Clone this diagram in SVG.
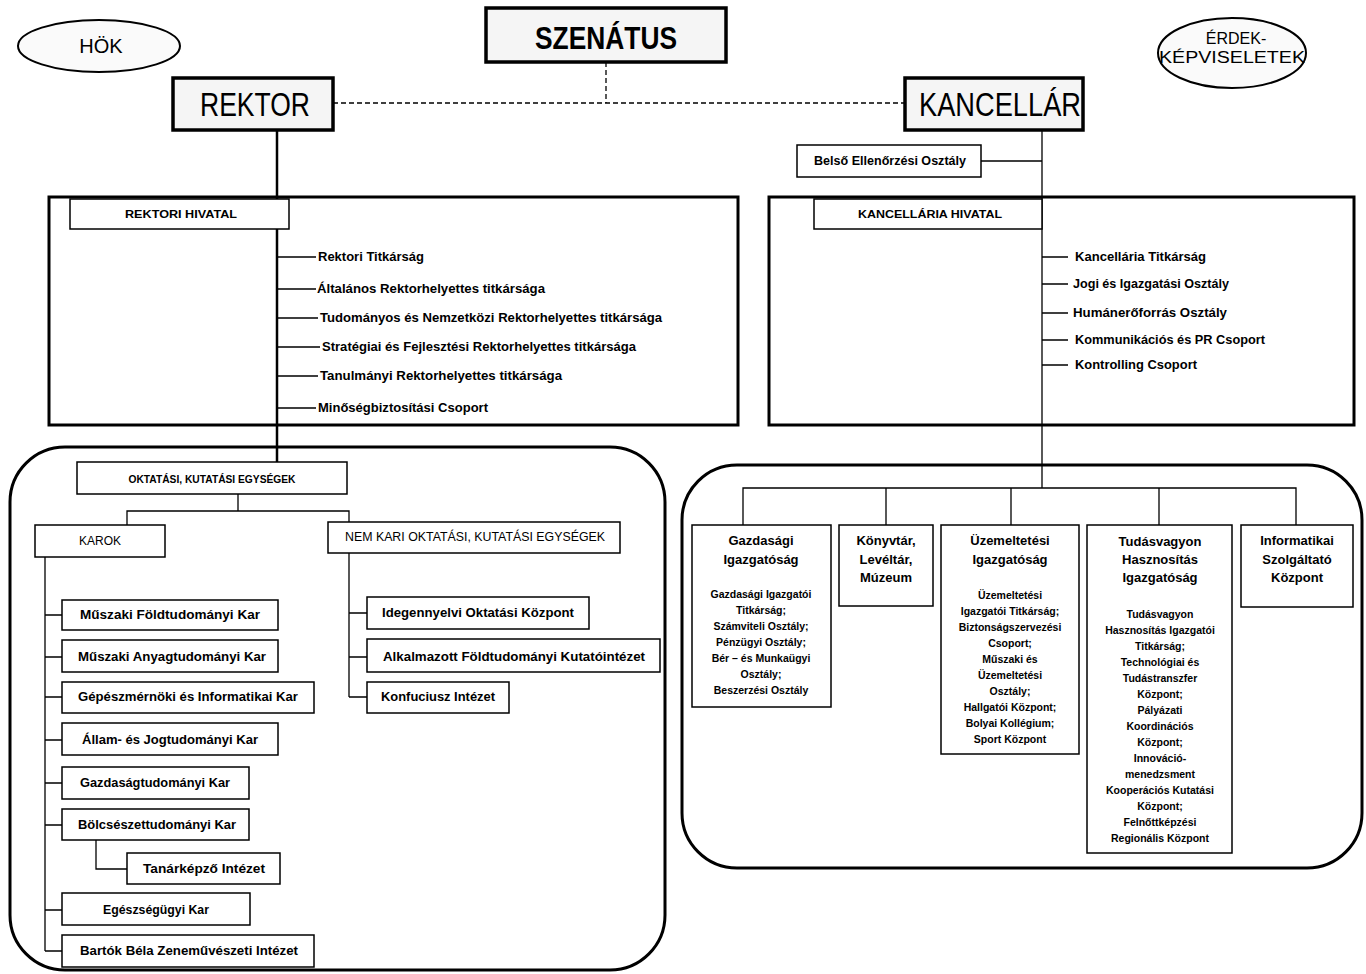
<svg xmlns="http://www.w3.org/2000/svg" width="1366" height="974" viewBox="0 0 1366 974">
<style>
.bg{fill:#fff}
.box{fill:#fff;stroke:#000;stroke-width:1.5}
.thick{fill:#f5f5f5;stroke:#000;stroke-width:3.5}
.frame{fill:none;stroke:#000;stroke-width:3}
.ell{fill:#fafafa;stroke:#000;stroke-width:2}
.ln{stroke:#000;stroke-width:1.3;fill:none}
.main{stroke:#000;stroke-width:2.5;fill:none}
.dash{stroke:#000;stroke-width:1.3;fill:none;stroke-dasharray:5 3}
.t{font-family:"Liberation Sans",Arial,sans-serif;font-weight:bold;font-size:12px;fill:#000}
.s{font-family:"Liberation Sans",Arial,sans-serif;font-weight:bold;font-size:10.5px;fill:#000;text-anchor:middle}
.h{font-family:"Liberation Sans",Arial,sans-serif;font-weight:bold;font-size:13px;fill:#000;text-anchor:middle}
.n{font-family:"Liberation Sans",Arial,sans-serif;font-size:12px;fill:#000;text-anchor:middle}
.big{font-family:"Liberation Sans",Arial,sans-serif;font-size:34px;fill:#000;text-anchor:middle}
.c{text-anchor:middle}
</style>
<rect class="bg" x="0" y="0" width="1366" height="974"/>

<!-- frames -->
<g id="frames">
<rect class="frame" x="49" y="197" width="689" height="228"/>
<rect class="frame" x="769" y="197" width="585" height="228"/>
<rect class="frame" x="10" y="447" width="655" height="523" rx="55" ry="55"/>
<rect class="frame" x="682" y="465" width="680" height="403" rx="55" ry="55"/>
</g>

<!-- connectors -->
<g id="connectors">
<path class="dash" d="M333 103 H905 M606 62 V103"/>
<path class="main" d="M277 130 V462"/>
<path class="ln" d="M1042 130 V488 M981 161 H1042"/>
<path class="ln" d="M277 257 H316 M277 289 H316 M277 318 H318 M277 347 H320 M277 376 H318 M277 408 H316"/>
<path class="ln" d="M1042 257 H1068 M1042 284 H1068 M1042 313 H1068 M1042 340 H1068 M1042 365 H1068"/>
<path class="ln" d="M238 494 V511 M127 525 V511 H349 V522"/>
<path class="ln" d="M45 557 V951 M45 615 H62 M45 657 H62 M45 697 H62 M45 740 H62 M45 783 H62 M45 825 H62 M45 910 H62 M45 951 H62"/>
<path class="ln" d="M96 840 V869 H127"/>
<path class="ln" d="M349 553 V697 M349 613 H367 M349 657 H367 M349 697 H367"/>
<path class="ln" d="M743 525 V488 H1296 V525 M886 488 V525 M1011 488 V525 M1159 488 V525"/>
</g>

<g id="hok">
<ellipse class="ell" cx="99" cy="46" rx="81" ry="26"/>
<text class="n" x="101" y="53" style="font-size:20px">HÖK</text>
</g>
<g id="erdek">
<ellipse class="ell" cx="1232" cy="53" rx="74" ry="35"/>
<text class="n" x="1236" y="44" style="font-size:16px">ÉRDEK-</text>
<text class="n" x="1232" y="63" style="font-size:16px" textLength="146" lengthAdjust="spacingAndGlyphs">KÉPVISELETEK</text>
</g>
<g id="szenatus">
<rect class="thick" x="486" y="8" width="240" height="54"/>
<text class="big" x="606" y="49" style="font-weight:bold;font-size:32px" textLength="142" lengthAdjust="spacingAndGlyphs">SZENÁTUS</text>
</g>
<g id="rektor">
<rect class="thick" x="173" y="78" width="160" height="52"/>
<text class="big" x="255" y="116" textLength="110" lengthAdjust="spacingAndGlyphs">REKTOR</text>
</g>
<g id="kancellar">
<rect class="thick" x="905" y="78" width="178" height="52"/>
<text class="big" x="1000" y="116" textLength="162" lengthAdjust="spacingAndGlyphs">KANCELLÁR</text>
</g>
<g id="belso">
<rect class="box" x="797" y="145" width="184" height="32"/>
<text class="t c" x="890" y="165" textLength="152" lengthAdjust="spacingAndGlyphs">Belső Ellenőrzési Osztály</text>
</g>

<g id="rektori-hivatal">
<rect class="box" x="70" y="199" width="219" height="30"/>
<text class="t c" x="181" y="218" style="font-size:11px" textLength="112" lengthAdjust="spacingAndGlyphs">REKTORI HIVATAL</text>
<text class="t" x="318" y="261" textLength="106" lengthAdjust="spacingAndGlyphs">Rektori Titkárság</text>
<text class="t" x="317" y="293" textLength="228" lengthAdjust="spacingAndGlyphs">Általános Rektorhelyettes titkársága</text>
<text class="t" x="320" y="322" textLength="342" lengthAdjust="spacingAndGlyphs">Tudományos és Nemzetközi Rektorhelyettes titkársága</text>
<text class="t" x="322" y="351" textLength="314" lengthAdjust="spacingAndGlyphs">Stratégiai és Fejlesztési Rektorhelyettes titkársága</text>
<text class="t" x="320" y="380" textLength="242" lengthAdjust="spacingAndGlyphs">Tanulmányi Rektorhelyettes titkársága</text>
<text class="t" x="318" y="412" textLength="170" lengthAdjust="spacingAndGlyphs">Minőségbiztosítási Csoport</text>
</g>

<g id="kancellaria-hivatal">
<rect class="box" x="814" y="199" width="228" height="30"/>
<text class="t c" x="930" y="218" style="font-size:11px" textLength="144" lengthAdjust="spacingAndGlyphs">KANCELLÁRIA HIVATAL</text>
<text class="t" x="1075" y="261" textLength="131" lengthAdjust="spacingAndGlyphs">Kancellária Titkárság</text>
<text class="t" x="1073" y="288" textLength="156" lengthAdjust="spacingAndGlyphs">Jogi és Igazgatási Osztály</text>
<text class="t" x="1073" y="317" textLength="154" lengthAdjust="spacingAndGlyphs">Humánerőforrás Osztály</text>
<text class="t" x="1075" y="344" textLength="190" lengthAdjust="spacingAndGlyphs">Kommunikációs és PR Csoport</text>
<text class="t" x="1075" y="369" textLength="122" lengthAdjust="spacingAndGlyphs">Kontrolling Csoport</text>
</g>

<g id="oktatasi">
<rect class="box" x="77" y="462" width="270" height="32"/>
<text class="t c" x="212" y="483" style="font-size:10px" textLength="167" lengthAdjust="spacingAndGlyphs">OKTATÁSI, KUTATÁSI EGYSÉGEK</text>
</g>
<g id="karok">
<rect class="box" x="35" y="525" width="130" height="32"/>
<text class="n" x="100" y="545">KAROK</text>
</g>
<g id="nemkari">
<rect class="box" x="328" y="522" width="292" height="31"/>
<text class="n" x="475" y="541" textLength="260" lengthAdjust="spacingAndGlyphs">NEM KARI OKTATÁSI, KUTATÁSI EGYSÉGEK</text>
</g>

<g id="k1"><rect class="box" x="62" y="600" width="216" height="30"/><text class="t c" x="170" y="619" textLength="180" lengthAdjust="spacingAndGlyphs">Műszaki Földtudományi Kar</text></g>
<g id="k2"><rect class="box" x="62" y="640" width="216" height="32"/><text class="t c" x="172" y="661" textLength="188" lengthAdjust="spacingAndGlyphs">Műszaki Anyagtudományi Kar</text></g>
<g id="k3"><rect class="box" x="62" y="682" width="252" height="31"/><text class="t c" x="188" y="701" textLength="220" lengthAdjust="spacingAndGlyphs">Gépészmérnöki és Informatikai Kar</text></g>
<g id="k4"><rect class="box" x="62" y="723" width="216" height="32"/><text class="t c" x="170" y="744" textLength="176" lengthAdjust="spacingAndGlyphs">Állam- és Jogtudományi Kar</text></g>
<g id="k5"><rect class="box" x="62" y="767" width="187" height="32"/><text class="t c" x="155" y="787" textLength="150" lengthAdjust="spacingAndGlyphs">Gazdaságtudományi Kar</text></g>
<g id="k6"><rect class="box" x="62" y="809" width="187" height="31"/><text class="t c" x="157" y="829" textLength="158" lengthAdjust="spacingAndGlyphs">Bölcsészettudományi Kar</text></g>
<g id="k7"><rect class="box" x="127" y="853" width="153" height="31"/><text class="t c" x="204" y="873" textLength="122" lengthAdjust="spacingAndGlyphs">Tanárképző Intézet</text></g>
<g id="k8"><rect class="box" x="62" y="893" width="188" height="32"/><text class="t c" x="156" y="914" textLength="106" lengthAdjust="spacingAndGlyphs">Egészségügyi Kar</text></g>
<g id="k9"><rect class="box" x="62" y="935" width="252" height="32"/><text class="t c" x="189" y="955" textLength="218" lengthAdjust="spacingAndGlyphs">Bartók Béla Zeneművészeti Intézet</text></g>

<g id="n1"><rect class="box" x="367" y="597" width="222" height="32"/><text class="t c" x="478" y="617" textLength="192" lengthAdjust="spacingAndGlyphs">Idegennyelvi Oktatási Központ</text></g>
<g id="n2"><rect class="box" x="367" y="639" width="293" height="33"/><text class="t c" x="514" y="661" textLength="262" lengthAdjust="spacingAndGlyphs">Alkalmazott Földtudományi Kutatóintézet</text></g>
<g id="n3"><rect class="box" x="367" y="682" width="142" height="31"/><text class="t c" x="438" y="701" textLength="114" lengthAdjust="spacingAndGlyphs">Konfuciusz Intézet</text></g>

<g id="gazdasagi">
<rect class="box" x="692" y="525" width="139" height="182"/>
<text class="h" x="761" y="545">Gazdasági</text>
<text class="h" x="761" y="564">Igazgatóság</text>
<text class="s" x="761" y="598">Gazdasági Igazgatói</text>
<text class="s" x="761" y="614">Titkárság;</text>
<text class="s" x="761" y="630">Számviteli Osztály;</text>
<text class="s" x="761" y="646">Pénzügyi Osztály;</text>
<text class="s" x="761" y="662">Bér – és Munkaügyi</text>
<text class="s" x="761" y="678">Osztály;</text>
<text class="s" x="761" y="694">Beszerzési  Osztály</text>
</g>
<g id="konyvtar">
<rect class="box" x="839" y="525" width="94" height="81"/>
<text class="h" x="886" y="545">Könyvtár,</text>
<text class="h" x="886" y="564">Levéltár,</text>
<text class="h" x="886" y="582">Múzeum</text>
</g>
<g id="uzemeltetesi">
<rect class="box" x="941" y="525" width="138" height="229"/>
<text class="h" x="1010" y="545">Üzemeltetési</text>
<text class="h" x="1010" y="564">Igazgatóság</text>
<text class="s" x="1010" y="599">Üzemeltetési</text>
<text class="s" x="1010" y="615">Igazgatói Titkárság;</text>
<text class="s" x="1010" y="631">Biztonságszervezési</text>
<text class="s" x="1010" y="647">Csoport;</text>
<text class="s" x="1010" y="663">Műszaki és</text>
<text class="s" x="1010" y="679">Üzemeltetési</text>
<text class="s" x="1010" y="695">Osztály;</text>
<text class="s" x="1010" y="711">Hallgatói Központ;</text>
<text class="s" x="1010" y="727">Bolyai Kollégium;</text>
<text class="s" x="1010" y="743">Sport Központ</text>
</g>
<g id="tudasvagyon">
<rect class="box" x="1087" y="525" width="145" height="328"/>
<text class="h" x="1160" y="546">Tudásvagyon</text>
<text class="h" x="1160" y="564">Hasznosítás</text>
<text class="h" x="1160" y="582">Igazgatóság</text>
<text class="s" x="1160" y="618">Tudásvagyon</text>
<text class="s" x="1160" y="634">Hasznosítás Igazgatói</text>
<text class="s" x="1160" y="650">Titkárság;</text>
<text class="s" x="1160" y="666">Technológiai és</text>
<text class="s" x="1160" y="682">Tudástranszfer</text>
<text class="s" x="1160" y="698">Központ;</text>
<text class="s" x="1160" y="714">Pályázati</text>
<text class="s" x="1160" y="730">Koordinációs</text>
<text class="s" x="1160" y="746">Központ;</text>
<text class="s" x="1160" y="762">Innováció-</text>
<text class="s" x="1160" y="778">menedzsment</text>
<text class="s" x="1160" y="794">Kooperációs Kutatási</text>
<text class="s" x="1160" y="810">Központ;</text>
<text class="s" x="1160" y="826">Felnőttképzési</text>
<text class="s" x="1160" y="842">Regionális Központ</text>
</g>
<g id="informatikai">
<rect class="box" x="1241" y="525" width="112" height="82"/>
<text class="h" x="1297" y="545">Informatikai</text>
<text class="h" x="1297" y="564">Szolgáltató</text>
<text class="h" x="1297" y="582">Központ</text>
</g>
</svg>
